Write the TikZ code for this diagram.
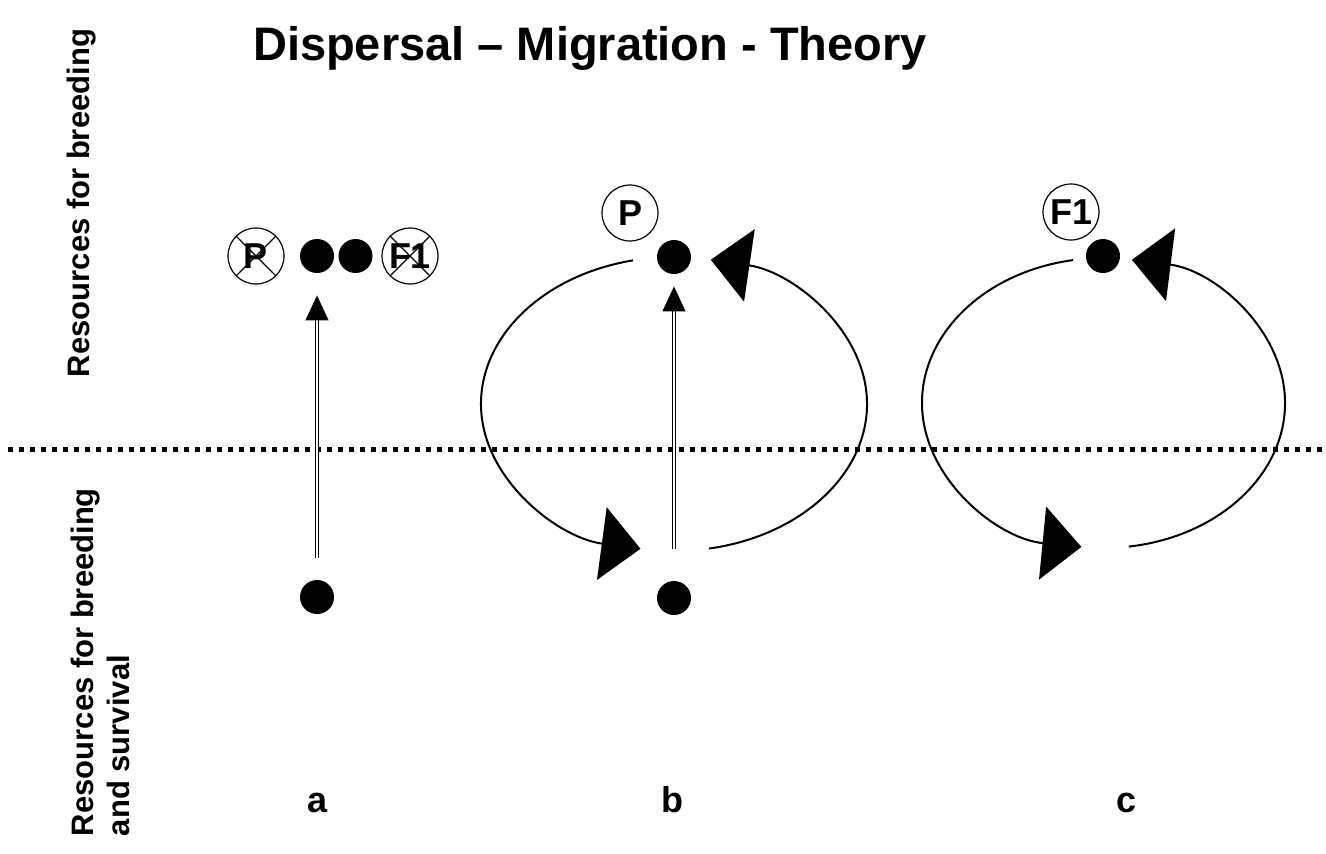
\documentclass[tikz,border=0pt]{standalone}
\usepackage{fontspec}
\setmainfont{Liberation Sans}
\usetikzlibrary{arrows.meta}

\begin{document}
\begin{tikzpicture}[
    x=0.5pt, y=-0.5pt,
    font=\bfseries\fontsize{15.5}{18}\selectfont,
    dot/.style={circle, fill=black, inner sep=0pt, minimum size=17pt},
    gen/.style={circle, draw, line width=0.6pt, inner sep=0pt, minimum size=28pt, font=\bfseries\fontsize{18}{18}\selectfont},
    cross/.style={line width=0.6pt},
    panel/.style={anchor=base, font=\bfseries\fontsize{18}{18}\selectfont},
    loop/.style={line width=1pt, -{Triangle[length=19.5pt, width=36.5pt]}},
    move/.style={double, double distance=1.2pt, line width=0.6pt, -{Triangle[length=12.5pt, width=11.5pt]}},
    divide/.style={line width=2.5pt, dash pattern=on 2.5pt off 3pt}
  ]
    \useasboundingbox (0,0) rectangle (1326,853);

    \node (title) at (590,48) {\fontsize{23.5}{23.5}\selectfont Dispersal – Migration - Theory};
    \node[rotate=90] (upper) at (82,203) {Resources for breeding};
    \node[rotate=90, align=left] (lower) at (100,662) {Resources for breeding\\and survival};

    \coordinate (left) at (8,449);
    \coordinate (right) at (1326,449);
    \draw[divide] (left) -- (right);

    % a
    \node[gen] (pa) at (256,256) {P};
    \draw[cross] (pa.45) -- (pa.225) (pa.135) -- (pa.315);
    \node[dot] (a1) at (317,256) {};
    \node[dot] (a2) at (355.5,256) {};
    \node[gen] (fa) at (410,256) {F1};
    \draw[cross] (fa.45) -- (fa.225) (fa.135) -- (fa.315);
    \node[dot] (a0) at (317,597) {};
    \draw[move, shorten <=11pt, shorten >=11pt] (a0) -- (a1);
    \node[panel] (la) at (318,812) {a};

    % b
    \node[gen] (pb) at (630,213) {P};
    \node[dot] (b1) at (674,257) {};
    \node[dot] (b0) at (674,598) {};
    \draw[move, shorten <=16pt, shorten >=6pt] (b0) -- (b1);
    \coordinate (cb) at (674,404);
    \draw[loop] ([shift={(257.7:193 and 147)}]cb) arc[start angle=257.7, end angle=100, x radius=193, y radius=147];
    \draw[loop] ([shift={(79.5:193 and 147)}]cb) arc[start angle=79.5, end angle=-79, x radius=193, y radius=147];
    \node[panel] (lb) at (672,812) {b};

    % c
    \node[gen] (fc) at (1071,212) {F1};
    \node[dot] (c1) at (1103,256) {};
    \coordinate (cc) at (1103.5,403);
    \draw[loop] ([shift={(260.3:181.5 and 145)}]cc) arc[start angle=260.3, end angle=97, x radius=181.5, y radius=145];
    \draw[loop] ([shift={(82:181.5 and 145)}]cc) arc[start angle=82, end angle=-81, x radius=181.5, y radius=145];
    \node[panel] (lc) at (1126,812) {c};
  \end{tikzpicture}
\end{document}
